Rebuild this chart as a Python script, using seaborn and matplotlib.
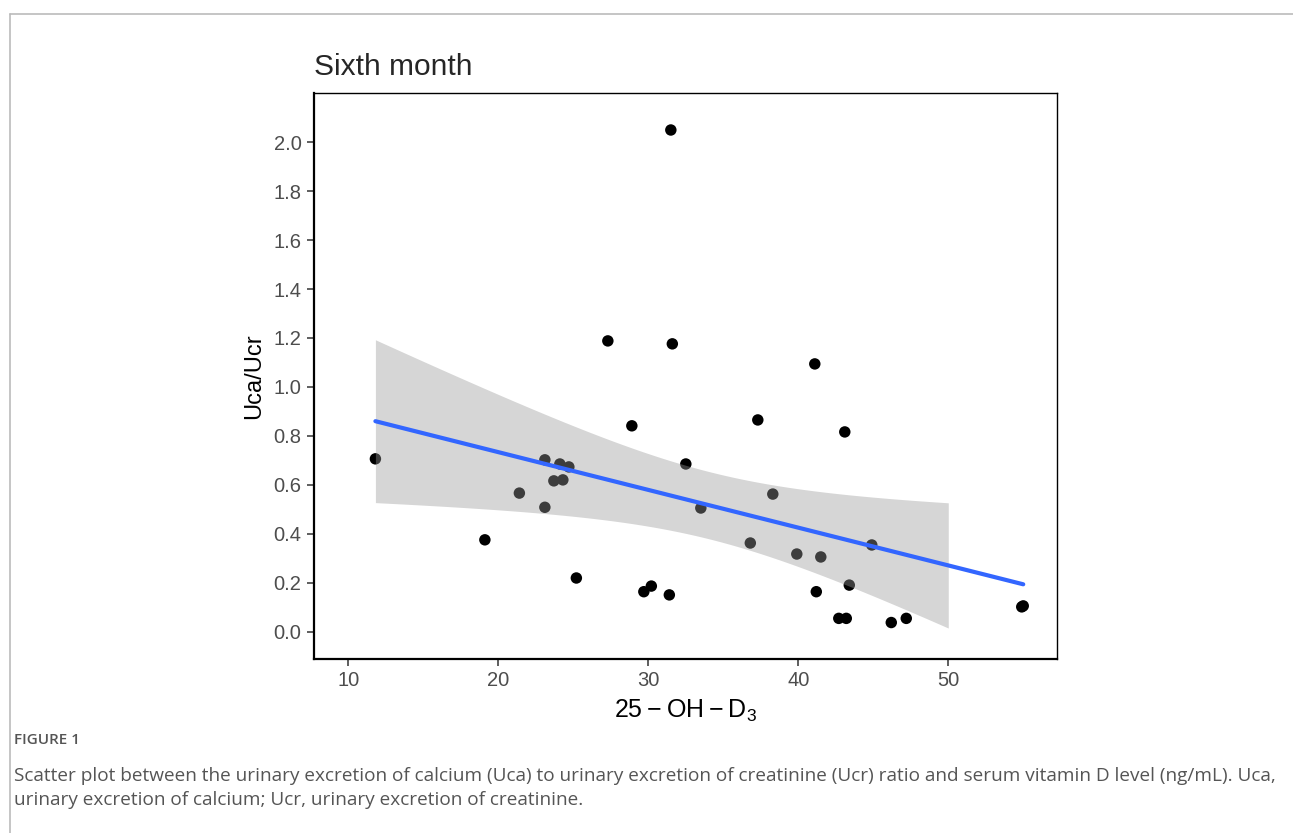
import matplotlib
matplotlib.use("Agg")
import matplotlib.pyplot as plt
from matplotlib.lines import Line2D
import numpy as np
import pandas as pd
import seaborn as sns

# 25-OH-D3 (ng/mL) and Uca/Ucr ratio
vit_d = [11.8, 19.1, 21.4, 23.1, 23.1, 23.7, 24.1, 24.3, 24.7, 25.2,
         27.3, 28.9, 29.7, 30.2, 31.5, 31.4, 31.6, 32.5, 33.5, 36.8,
         37.3, 38.3, 39.9, 41.1, 41.2, 41.5, 42.7, 43.2, 43.1, 43.4,
         44.9, 46.2, 47.2, 54.9, 55.0]
uca_ucr = [0.706, 0.375, 0.566, 0.702, 0.508, 0.616, 0.685, 0.620, 0.673, 0.219,
           1.188, 0.841, 0.163, 0.186, 2.050, 0.150, 1.176, 0.685, 0.505, 0.362,
           0.865, 0.562, 0.317, 1.094, 0.163, 0.305, 0.054, 0.054, 0.816, 0.190,
           0.354, 0.037, 0.054, 0.101, 0.105]
x_ticks = [10, 20, 30, 40, 50]
y_ticks = [0.0, 0.2, 0.4, 0.6, 0.8, 1.0, 1.2, 1.4, 1.6, 1.8, 2.0]
band_end = 50  # confidence ribbon stops here in the original

df = pd.DataFrame({"vitd": vit_d, "ratio": uca_ucr})

sns.set_style("white")
plt.rcParams["font.family"] = ["Liberation Sans", "DejaVu Sans"]

fig = plt.figure(figsize=(12.93, 8.33), dpi=100)
ax = fig.add_axes([0.2429, 0.2089, 0.5748, 0.6791])

# points first, ribbon drawn over them like ggplot does
sns.scatterplot(data=df, x="vitd", y="ratio", color="black", s=68,
                edgecolor="none", ax=ax, zorder=2)

# 95% confidence band of the linear fit
x = df["vitd"].to_numpy()
y = df["ratio"].to_numpy()
n = len(x)
b1, b0 = np.polyfit(x, y, 1)
resid = y - (b0 + b1 * x)
s = np.sqrt(np.sum(resid ** 2) / (n - 2))
sxx = np.sum((x - x.mean()) ** 2)
t_crit = 2.0345  # t(0.975, df=33)
xb = np.linspace(x.min(), band_end, 200)
se = s * np.sqrt(1 / n + (xb - x.mean()) ** 2 / sxx)
fit = b0 + b1 * xb
ax.fill_between(xb, fit - t_crit * se, fit + t_crit * se,
                color="#999999", alpha=0.4, linewidth=0, zorder=3)

sns.regplot(data=df, x="vitd", y="ratio", scatter=False, ci=None,
            truncate=True, color="#3366FF", line_kws={"linewidth": 3},
            ax=ax)
for line in ax.lines:
    line.set_zorder(4)

ax.set_xlim(7.71, 57.27)
ax.set_ylim(-0.112, 2.2)
ax.set_xticks(x_ticks)
ax.set_yticks(y_ticks)
ax.set_yticklabels([f"{v:.1f}" for v in y_ticks])
ax.tick_params(axis="both", direction="out", length=5, width=1.1,
               color="#333333", labelcolor="#4D4D4D", labelsize=14.5, pad=4,
               bottom=True, left=True)
for side in ["top", "right"]:
    ax.spines[side].set_linewidth(1.0)
    ax.spines[side].set_color("black")
for side in ["left", "bottom"]:
    ax.spines[side].set_linewidth(1.6)
    ax.spines[side].set_color("black")

ax.set_xlabel(r"$\mathregular{25-OH-D_3}$", fontsize=18, color="black", labelpad=5)
ax.set_ylabel("Uca/Ucr", fontsize=17, color="black", labelpad=6)
ax.set_title("Sixth month", loc="left", fontsize=21.5, pad=13)

# page frame and caption
fig.add_artist(Line2D([9.5 / 1293, 9.5 / 1293], [0, 1 - 14 / 833],
                      transform=fig.transFigure, color="#BBBBBB", linewidth=1.2))
fig.add_artist(Line2D([9.5 / 1293, 1], [1 - 14 / 833, 1 - 14 / 833],
                      transform=fig.transFigure, color="#BBBBBB", linewidth=1.2))
fig.text(14 / 1293, 1 - 740 / 833, "FIGURE 1", fontsize=11, color="#555555",
         family=["Open Sans", "DejaVu Sans"], weight="semibold", va="center")
fig.text(14 / 1293, 1 - 776 / 833,
         "Scatter plot between the urinary excretion of calcium (Uca) to urinary "
         "excretion of creatinine (Ucr) ratio and serum vitamin D level (ng/mL). Uca,",
         fontsize=13.7, color="#555555", family=["Open Sans", "DejaVu Sans"],
         va="center")
fig.text(14 / 1293, 1 - 800 / 833,
         "urinary excretion of calcium; Ucr, urinary excretion of creatinine.",
         fontsize=13.7, color="#555555", family=["Open Sans", "DejaVu Sans"],
         va="center")

plt.savefig("out.png", dpi=100)
